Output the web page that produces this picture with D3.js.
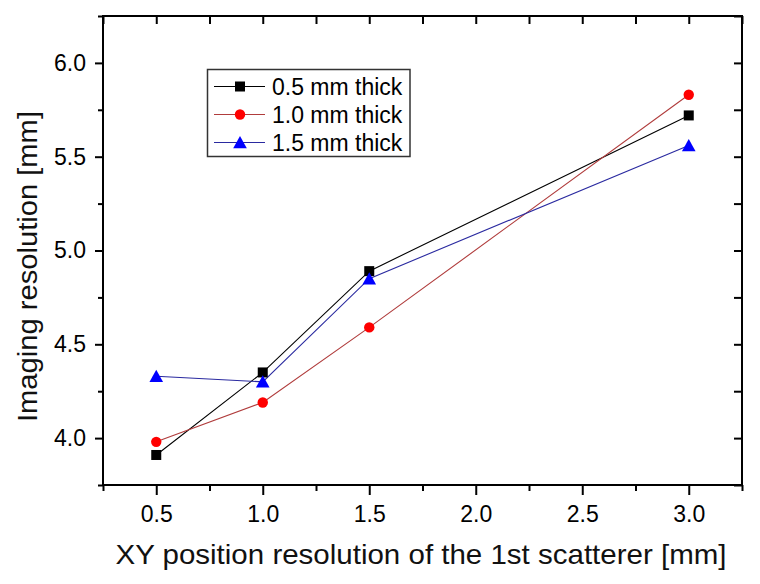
<!DOCTYPE html>
<html>
<head>
<meta charset="utf-8">
<script src="https://cdn.jsdelivr.net/npm/d3@7"></script>
<style>
  html, body { margin: 0; padding: 0; background: #fff; }
  svg { display: block; font-family: "Liberation Sans", Arial, sans-serif; }
</style>
</head>
<body>
<svg id="chart" width="760" height="584"></svg>
<script>
// ---- data ----
const xValues = [0.5, 1.0, 1.5, 3.0];
const thick05 = [3.91, 4.35, 4.89, 5.72];
const thick10 = [3.98, 4.19, 4.59, 5.83];
const thick15 = [4.33, 4.30, 4.85, 5.56];
const seriesNames = ["0.5 mm thick", "1.0 mm thick", "1.5 mm thick"];
const xMajorTicks = [0.5, 1.0, 1.5, 2.0, 2.5, 3.0];
const xMinorTicks = [0.25, 0.75, 1.25, 1.75, 2.25, 2.75, 3.25];
const yMajorTicks = [4.0, 4.5, 5.0, 5.5, 6.0];
const yMinorTicks = [3.75, 4.25, 4.75, 5.25, 5.75, 6.25];
const xTitle = "XY position resolution of the 1st scatterer [mm]";
const yTitle = "Imaging resolution [mm]";

// ---- layout ----
const L = 103, T = 16, R = 742, B = 485;
const svg = d3.select("#chart");
const x = d3.scaleLinear().domain([0.25, 3.25]).range([L, R]);
const y = d3.scaleLinear().domain([3.75, 6.25]).range([B, T]);

function styleAxis(g) {
  g.select(".domain").remove();
  g.selectAll(".tick line").attr("stroke", "#000").attr("stroke-width", 2);
  g.selectAll(".tick text").attr("fill", "#000").attr("font-size", 23)
    .attr("font-family", "'Liberation Sans', Arial, sans-serif");
}

// bottom axis (outward)
svg.append("g").attr("transform", `translate(0,${B})`)
  .call(d3.axisBottom(x).tickValues(xMajorTicks).tickSize(10).tickPadding(11).tickFormat(d3.format(".1f")))
  .call(styleAxis);
svg.append("g").attr("transform", `translate(0,${B})`)
  .call(d3.axisBottom(x).tickValues(xMinorTicks).tickSize(6).tickFormat(""))
  .call(styleAxis);
// top axis (inward)
svg.append("g").attr("transform", `translate(0,${T})`)
  .call(d3.axisBottom(x).tickValues(xMajorTicks.concat(xMinorTicks)).tickSize(8).tickFormat(""))
  .call(styleAxis);
// left axis (outward)
svg.append("g").attr("transform", `translate(${L},0)`)
  .call(d3.axisLeft(y).tickValues(yMajorTicks).tickSize(8).tickPadding(9).tickFormat(d3.format(".1f")))
  .call(styleAxis);
svg.append("g").attr("transform", `translate(${L},0)`)
  .call(d3.axisLeft(y).tickValues(yMinorTicks).tickSize(5).tickFormat(""))
  .call(styleAxis);
// right axis (inward)
svg.append("g").attr("transform", `translate(${R},0)`)
  .call(d3.axisLeft(y).tickValues(yMajorTicks.concat(yMinorTicks)).tickSize(8).tickFormat(""))
  .call(styleAxis);

// frame
svg.append("rect").attr("x", L).attr("y", T).attr("width", R - L).attr("height", B - T)
  .attr("fill", "none").attr("stroke", "#000").attr("stroke-width", 2);

// titles
svg.append("text").attr("x", (115 + 727) / 2).attr("y", 564)
  .attr("text-anchor", "middle").attr("font-size", 28)
  .attr("textLength", 611).attr("lengthAdjust", "spacingAndGlyphs")
  .attr("fill", "#111").text(xTitle);
svg.append("text").attr("transform", `translate(37,${(111 + 422) / 2}) rotate(-90)`)
  .attr("text-anchor", "middle").attr("font-size", 27.5)
  .attr("textLength", 311).attr("lengthAdjust", "spacingAndGlyphs")
  .attr("fill", "#111").text(yTitle);

// ---- series ----
const series = [
  { name: seriesNames[0], vals: thick05, line: "#000000", fill: "#000000", shape: "square" },
  { name: seriesNames[1], vals: thick10, line: "#b03c3c", fill: "#ff0000", shape: "circle" },
  { name: seriesNames[2], vals: thick15, line: "#2a2aa0", fill: "#0000ff", shape: "triangle" }
];

function drawMarker(g, shape, cx, cy, fill) {
  if (shape === "square") {
    g.append("rect").attr("x", cx - 5).attr("y", cy - 5).attr("width", 10).attr("height", 10).attr("fill", fill);
  } else if (shape === "circle") {
    g.append("circle").attr("cx", cx).attr("cy", cy).attr("r", 5.2).attr("fill", fill);
  } else {
    g.append("path").attr("d", `M${cx},${cy - 6.5}L${cx + 6.8},${cy + 5.8}L${cx - 6.8},${cy + 5.8}Z`).attr("fill", fill);
  }
}

const lineGen = d3.line().x(d => x(d[0])).y(d => y(d[1]));
series.forEach(s => {
  const pts = xValues.map((xv, i) => [xv, s.vals[i]]);
  svg.append("path").attr("d", lineGen(pts)).attr("fill", "none")
    .attr("stroke", s.line).attr("stroke-width", 1.1);
});
series.forEach(s => {
  const g = svg.append("g");
  xValues.forEach((xv, i) => drawMarker(g, s.shape, x(xv), y(s.vals[i]), s.fill));
});

// ---- legend ----
const lg = svg.append("g");
lg.append("rect").attr("x", 207.5).attr("y", 69.5).attr("width", 202.5).attr("height", 87)
  .attr("fill", "#fff").attr("stroke", "#333").attr("stroke-width", 1.5);
series.forEach((s, i) => {
  const cy = 86.5 + i * 28;
  lg.append("line").attr("x1", 214).attr("x2", 265).attr("y1", cy).attr("y2", cy)
    .attr("stroke", s.line).attr("stroke-width", 1.1);
  drawMarker(lg, s.shape, 240, cy, s.fill);
  lg.append("text").attr("x", 272).attr("y", cy + 8.3).attr("font-size", 23)
    .attr("fill", "#000").text(s.name);
});
</script>
</body>
</html>
